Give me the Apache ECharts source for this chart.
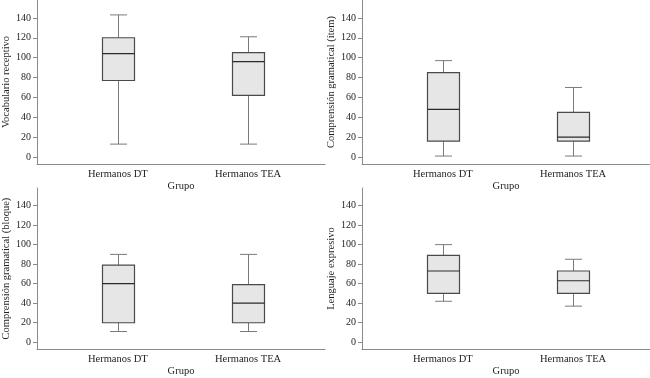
<!DOCTYPE html>
<html>
<head>
<meta charset="utf-8">
<script src="https://cdn.jsdelivr.net/npm/echarts@6/dist/echarts.min.js"></script>
<style>
  html, body { margin: 0; padding: 0; background: #fff; }
  #chart { width: 650px; height: 378px; }
</style>
</head>
<body>
<div id="chart"></div>
<script>
// categorias del eje x
const grupos = ['Hermanos DT', 'Hermanos TEA']
const yTicks = [0, 20, 40, 60, 80, 100, 120, 140]
const yNames = [
  'Vocabulario receptivo',
  'Comprensión gramatical (ítem)',
  'Comprensión gramatical (bloque)',
  'Lenguaje expresivo'
]
// [min, Q1, mediana, Q3, max] por grupo
const vocabulario = [[13, 77, 104, 120, 143], [13, 62, 96, 105, 121]]
const gramItem = [[1, 16, 48, 85, 97], [1, 16, 20, 45, 70]]
const gramBloque = [[11, 20, 60, 79, 90], [11, 20, 40, 59, 90]]
const lenguaje = [[42, 50, 73, 89, 100], [37, 50, 63, 73, 85]]
const panels = [vocabulario, gramItem, gramBloque, lenguaje]

const FONT = '"Liberation Serif", "DejaVu Serif", serif'
const TXT = '#1e1e1e'
const AXIS = '#8a8a8a'

const gridPos = [
  { left: 37, top: 0 },
  { left: 362, top: 0 },
  { left: 37, top: 188 },
  { left: 362, top: 188 }
]

function renderBox(params, api) {
  const x = api.value(0)
  const low = api.coord([x, api.value(1)])
  const q1 = api.coord([x, api.value(2)])
  const med = api.coord([x, api.value(3)])
  const q3 = api.coord([x, api.value(4)])
  const high = api.coord([x, api.value(5)])
  const cx = Math.round(low[0]) + 0.5
  const hw = 16, cw = 8.5
  const whisker = { stroke: '#7a7a7a', lineWidth: 1 }
  return {
    type: 'group',
    children: [
      { type: 'line', shape: { x1: cx, y1: high[1], x2: cx, y2: q3[1] }, style: whisker },
      { type: 'line', shape: { x1: cx - cw, y1: high[1], x2: cx + cw, y2: high[1] }, style: whisker },
      { type: 'line', shape: { x1: cx, y1: q1[1], x2: cx, y2: low[1] }, style: whisker },
      { type: 'line', shape: { x1: cx - cw, y1: low[1], x2: cx + cw, y2: low[1] }, style: whisker },
      {
        type: 'rect',
        shape: { x: cx - hw, y: q3[1], width: hw * 2, height: q1[1] - q3[1] },
        style: { fill: '#e6e6e6', stroke: '#4a4a4a', lineWidth: 1.2 }
      },
      { type: 'line', shape: { x1: cx - hw, y1: med[1], x2: cx + hw, y2: med[1] }, style: { stroke: '#2a2a2a', lineWidth: 1.2 } }
    ]
  }
}

const option = {
  animation: false,
  backgroundColor: '#fff',
  textStyle: { fontFamily: FONT },
  grid: gridPos.map(g => ({ left: g.left, top: g.top, width: 288, height: 164 })),
  xAxis: panels.map((p, i) => ({
    type: 'value',
    gridIndex: i,
    min: -0.62,
    max: 1.59,
    name: 'Grupo',
    nameLocation: 'middle',
    nameGap: 15,
    nameTextStyle: { color: TXT, fontSize: 10.5, fontFamily: FONT },
    splitLine: { show: false },
    axisLine: { onZero: false, lineStyle: { color: AXIS } },
    axisTick: { show: false },
    axisLabel: {
      customValues: [0, 1],
      formatter: v => grupos[Math.round(v)],
      color: TXT,
      fontSize: 10.5,
      fontFamily: FONT,
      margin: 5
    }
  })),
  yAxis: panels.map((p, i) => ({
    type: 'value',
    gridIndex: i,
    min: -7,
    max: 158,
    name: yNames[i],
    nameLocation: 'middle',
    nameGap: 25,
    nameTextStyle: { color: TXT, fontSize: 10.5, fontFamily: FONT },
    splitLine: { show: false },
    axisLine: { show: true, onZero: false, lineStyle: { color: AXIS } },
    axisTick: { show: true, length: 4, customValues: yTicks, lineStyle: { color: AXIS } },
    axisLabel: { customValues: yTicks, color: TXT, fontSize: 10, fontFamily: FONT, margin: 6 }
  })),
  series: panels.map((p, i) => ({
    type: 'custom',
    xAxisIndex: i,
    yAxisIndex: i,
    renderItem: renderBox,
    encode: { x: 0, y: [1, 2, 3, 4, 5] },
    data: p.map((b, k) => [k].concat(b))
  }))
}

const chartIns = echarts.init(document.getElementById('chart'))
chartIns.setOption(option)
</script>
</body>
</html>
